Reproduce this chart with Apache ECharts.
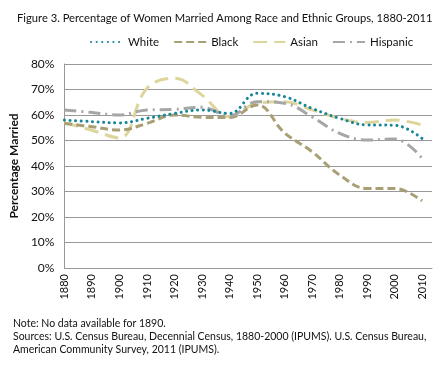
<!DOCTYPE html>
<html><head><meta charset="utf-8">
<script src="https://cdn.jsdelivr.net/npm/echarts@6/dist/echarts.min.js"></script>
<style>html,body{margin:0;padding:0;background:#fff}#c{width:438px;height:367px}</style>
</head><body><div id="c"></div>
<script>
const years = [1880,1890,1900,1910,1920,1930,1940,1950,1960,1970,1980,1990,2000,2010];
const white    = [58.0,57.4,56.9,58.7,60.6,62.0,60.6,68.5,67.2,62.6,58.7,56.1,56.0,50.8];
const black    = [56.7,55.4,54.1,56.7,60.0,59.1,59.0,63.9,53.0,45.6,36.5,31.2,31.2,26.3];
const asian    = [57.0,54.0,51.0,70.5,74.4,67.8,59.3,64.6,65.2,62.0,58.7,57.1,58.0,56.1];
const hispanic = [62.0,61.0,60.0,62.0,62.2,63.0,59.7,65.2,64.6,59.3,52.8,50.2,50.6,43.0];
const yTicks = [0,10,20,30,40,50,60,70,80];
const FONT = 'Lato';

const pair = arr => years.map((y,i)=>[y,arr[i]]);
const chart = echarts.init(document.getElementById('c'));
chart.setOption({
  animation:false,
  title:{text:'Figure 3. Percentage of Women Married Among Race and Ethnic Groups, 1880-2011',
    left:12, top:8, textStyle:{fontFamily:FONT,fontSize:11.2,fontWeight:'normal',color:'#111'}},
  legend:{left:85, top:31, itemWidth:32, itemHeight:10, itemGap:14,
    itemStyle:{opacity:0, borderWidth:0},
    textStyle:{fontFamily:FONT,fontSize:11.5,color:'#111'},
    data:['White','Black','Asian','Hispanic']},
  grid:{left:62, top:64, right:6, bottom:99},
  xAxis:{type:'value', min:1880, max:2013.6, interval:10,
    axisLine:{lineStyle:{color:'#999'}}, axisTick:{show:false}, splitLine:{show:false},
    axisLabel:{rotate:90, showMaxLabel:false, formatter:v=>String(v), color:'#111',
      fontFamily:FONT, fontSize:11, margin:6}},
  yAxis:{type:'value', min:0, max:80, interval:10,
    name:'Percentage Married', nameLocation:'middle', nameGap:38,
    nameTextStyle:{fontFamily:FONT,fontSize:12,fontWeight:'bold',color:'#111'},
    axisLine:{show:true,lineStyle:{color:'#999'}}, axisTick:{show:false},
    splitLine:{lineStyle:{color:'#999'}},
    axisLabel:{formatter:v=>v+'%', color:'#111', fontFamily:FONT, fontSize:12, margin:10}},
  series:[
    {name:'White', type:'line', smooth:0.4, symbol:'none', data:pair(white),
      lineStyle:{color:'#17869b', width:3, type:[0.1,5.5], cap:'round'}, itemStyle:{color:'#17869b'}, z:5},
    {name:'Black', type:'line', smooth:0.4, symbol:'none', data:pair(black),
      lineStyle:{color:'#a99f74', width:3, type:[8,4]}, itemStyle:{color:'#a99f74'}, z:3},
    {name:'Asian', type:'line', smooth:0.4, symbol:'none', data:pair(asian),
      lineStyle:{color:'#ddd59c', width:3, type:[14,7]}, itemStyle:{color:'#ddd59c'}, z:2},
    {name:'Hispanic', type:'line', smooth:0.4, symbol:'none', data:pair(hispanic),
      lineStyle:{color:'#a6a6a6', width:3, type:[12,5,2,5]}, itemStyle:{color:'#a6a6a6'}, z:4}
  ],
  graphic:[
    {type:'text', left:13, top:318, style:{text:'Note: No data available for 1890.', font:'10.5px '+FONT, fill:'#111'}},
    {type:'text', left:13, top:331, style:{text:'Sources: U.S. Census Bureau, Decennial Census, 1880-2000 (IPUMS). U.S. Census Bureau,', font:'10.5px '+FONT, fill:'#111'}},
    {type:'text', left:13, top:344, style:{text:'American Community Survey, 2011 (IPUMS).', font:'10.5px '+FONT, fill:'#111'}}
  ]
});
</script></body></html>
